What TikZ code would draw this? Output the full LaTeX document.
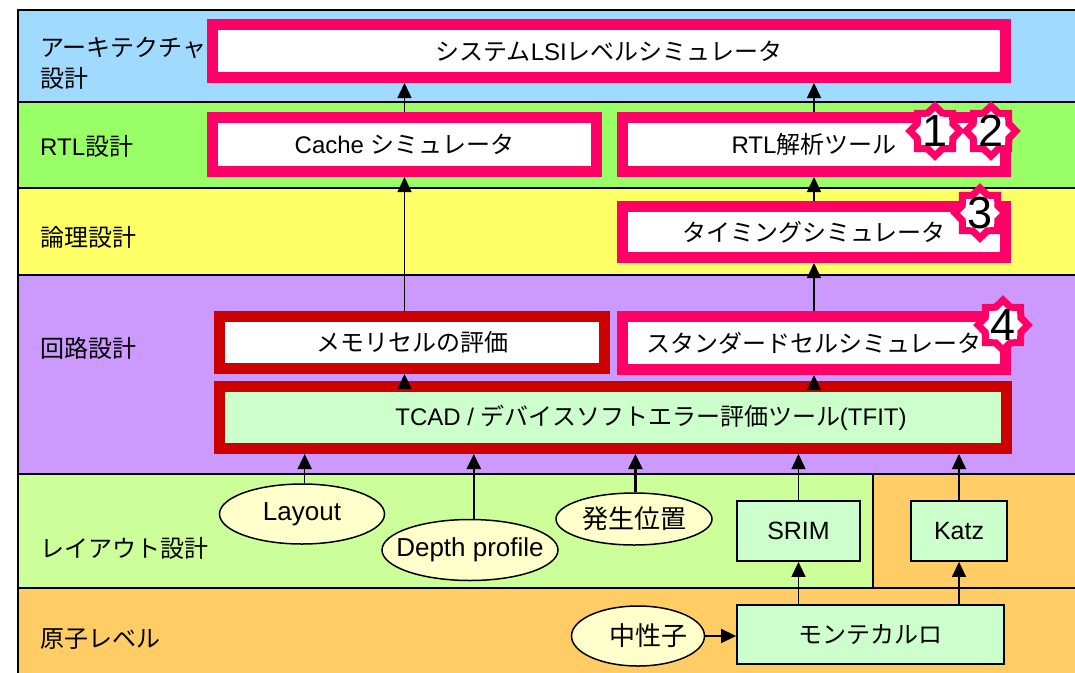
\documentclass[tikz,border=0pt]{standalone}
\usepackage{fontspec}
\setmainfont{Liberation Sans}
\newfontfamily\jp{Noto Sans CJK JP}
\usetikzlibrary{arrows.meta,shapes.geometric}
\definecolor{bandblue}{HTML}{A0DAFF}
\definecolor{rtlgreen}{HTML}{99FF66}
\definecolor{logicyellow}{HTML}{FFFF66}
\definecolor{circpurple}{HTML}{CC99FF}
\definecolor{layoutgreen}{HTML}{CCFF99}
\definecolor{atomorange}{HTML}{FFCC66}
\definecolor{hotpink}{HTML}{FF0066}
\definecolor{darkred}{HTML}{CC0000}
\definecolor{boxgreen}{HTML}{CCFFCC}
\definecolor{ellfill}{HTML}{FFFFCC}
\newcommand\zbox[1]{\makebox[0pt]{#1}}
\begin{document}
\begin{tikzpicture}[x=1pt,y=-1pt,
  txt/.style={font=\fontsize{24}{31}\selectfont},
  pbox/.style={txt, rectangle, draw=hotpink, line width=11pt, fill=white, inner sep=0pt},
  rbox/.style={txt, rectangle, draw=darkred, line width=11pt, fill=white, inner sep=0pt},
  gbox/.style={font=\fontsize{25}{31}\selectfont, rectangle, draw=black, line width=1.8pt, fill=boxgreen, inner sep=0pt},
  ell/.style={font=\fontsize{26}{31}\selectfont, ellipse, draw=black, line width=1.5pt, fill=ellfill, inner sep=0pt},
  badge/.style={star, star points=8, star point ratio=1.3, draw=hotpink, line width=7pt, fill=white, minimum size=50pt, inner sep=0pt},
  digit/.style={font=\fontsize{45}{45}\selectfont, inner sep=0pt},
  arr/.style={-{Triangle[width=14pt,length=15pt]}, line width=1.5pt},
  arrb/.style={arr, line width=2.6pt},
  band/.style={draw=black, line width=1.5pt},
  lbl/.style={txt, anchor=west, inner sep=0pt, align=left}
]
\useasboundingbox (0,0) rectangle (1075,672);
\fill[white] (0,0) rectangle (1075,672);
% bands
\filldraw[band, fill=bandblue] (18,10) rectangle (1090,102);
\filldraw[band, fill=rtlgreen] (18,102) rectangle (1090,188);
\filldraw[band, fill=logicyellow] (18,188) rectangle (1090,275);
\filldraw[band, fill=circpurple] (18,275) rectangle (1090,474);
\filldraw[band, fill=layoutgreen] (18,474) rectangle (1090,588);
\filldraw[band, fill=atomorange] (873,474) rectangle (1090,588);
\filldraw[band, fill=atomorange] (18,588) rectangle (1090,690);
\draw[line width=2.2pt] (18,10) -- (1090,10);
% band labels
\node[lbl] (lArch) at (40,63) {{\jp アーキテクチャ}\\{\jp 設計}};
\node[lbl] (lRtl) at (40,146) {RTL{\jp 設計}};
\node[lbl] (lLogic) at (40,237) {{\jp 論理設計}};
\node[lbl] (lCirc) at (40,348) {{\jp 回路設計}};
\node[lbl] (lLay) at (40,548) {{\jp レイアウト設計}};
\node[lbl] (lAtom) at (40,639) {{\jp 原子レベル}};
% main boxes
\node[pbox, minimum width=793pt, minimum height=53pt] (sys) at (609,51) {{\jp システム}LSI{\jp レベルシミュレータ}};
\node[pbox, minimum width=384pt, minimum height=54pt] (cache) at (404.5,144.5) {Cache {\jp シミュレータ}};
\node[pbox, minimum width=383pt, minimum height=54pt] (rtl) at (814,144.5) {RTL{\jp 解析ツール}};
\node[pbox, minimum width=383pt, minimum height=51pt] (timing) at (814,232) {{\jp タイミングシミュレータ}};
\node[pbox, minimum width=383pt, minimum height=53pt] (std) at (814,343) {{\jp スタンダードセルシミュレータ}};
\node[rbox, minimum width=385pt, minimum height=52pt] (mem) at (412,342.5) {{\jp メモリセルの評価}};
\node[rbox, fill=boxgreen, minimum width=787pt, minimum height=62pt] (tcad) at (613,417.5) {\hspace*{76pt}TCAD / {\jp デバイスソフトエラー評価ツール}(TFIT)};
% lower nodes
\node[ell, minimum width=165pt, minimum height=60pt] (layout) at (302,514) {\zbox{Layout}};
\node[ell, minimum width=176pt, minimum height=61pt] (depth) at (470,550) {\zbox{Depth profile}};
\node[ell, minimum width=156pt, minimum height=52pt] (hassei) at (634,519) {\zbox{\jp 発生位置}};
\node[ell, minimum width=133pt, minimum height=60pt] (neut) at (638,636) {\zbox{\hspace*{20pt}\jp 中性子}};
\node[gbox, minimum width=123pt, minimum height=60pt] (srim) at (798.5,531) {SRIM};
\node[gbox, minimum width=96pt, minimum height=60pt] (katz) at (959,531) {Katz};
\node[gbox, font=\fontsize{24}{31}\selectfont, minimum width=267pt, minimum height=59pt] (monte) at (870.5,634.5) {{\jp モンテカルロ}};
% arrows
\draw[arr] (cache.north) -- (cache.north |- sys.south);
\draw[arr] (rtl.north) -- (rtl.north |- sys.south);
\draw[arr] (cache.south |- mem.north) -- (cache.south);
\draw[arr] (timing.north) -- (rtl.south);
\draw[arr] (std.north) -- (timing.south);
\draw[arr] (cache.south |- tcad.north) -- (cache.south |- mem.south);
\draw[arr] (std.south |- tcad.north) -- (std.south);
\draw[arr] (layout.85) -- (layout.85 |- tcad.south);
\draw[arrb] (depth.83) -- (depth.83 |- tcad.south);
\draw[arrb] (hassei.87) -- (hassei.87 |- tcad.south);
\draw[arr] (srim.north) -- (srim.north |- tcad.south);
\draw[arr] (katz.north) -- (katz.north |- tcad.south);
\draw[arr] (srim.south |- monte.north) -- (srim.south);
\draw[arr] (katz.south |- monte.north) -- (katz.south);
\draw[arr] (neut.east) -- (neut.east -| monte.west);
% badges
\node[badge, label={[digit]center:1}] (b1) at (935,131) {};
\node[badge, label={[digit]center:2}] (b2) at (991,131) {};
\node[badge, label={[digit]center:3}] (b3) at (980,213) {};
\node[badge, label={[digit]center:4}] (b4) at (1003,325) {};
\end{tikzpicture}
\end{document}
